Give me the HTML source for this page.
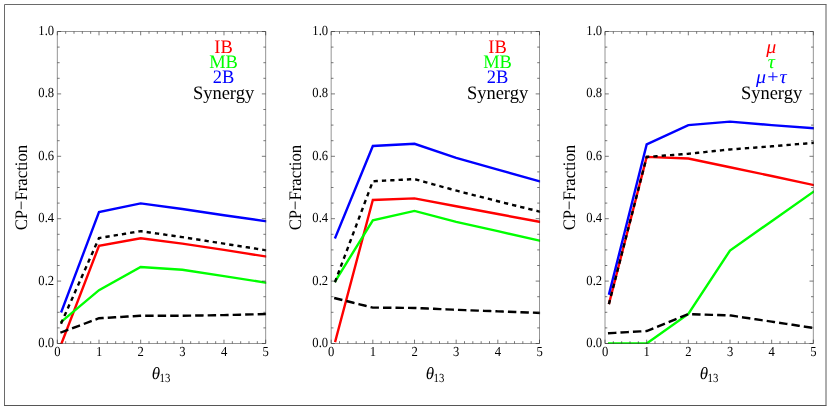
<!DOCTYPE html><html><head><meta charset="utf-8"><title>CP-Fraction</title>
<style>html,body{margin:0;padding:0;background:#fff;}body{width:830px;height:409px;overflow:hidden;}svg{display:block;will-change:transform;}text{font-family:"Liberation Serif",serif;text-rendering:geometricPrecision;}.s{font-family:"Liberation Serif",serif;font-style:italic;}</style></head><body>
<svg width="830" height="409" viewBox="0 0 830 409">
<path d="M4.5 405.5V4.5H826" fill="none" stroke="#6a6a6a" stroke-width="1" stroke-linecap="square"/><path d="M826 4.5V405.5" fill="none" stroke="#5c5c5c" stroke-width="1"/><path d="M4 405.5H826.5" fill="none" stroke="#565656" stroke-width="1"/>
<g id="panel1">
<clipPath id="c0"><rect x="56.73" y="30.90" width="209.53" height="313.20"/></clipPath>
<g clip-path="url(#c0)" fill="none" stroke-linejoin="miter" stroke-linecap="square">
<polyline points="61.50,343.50 99.00,245.84 140.66,238.20 182.33,243.66 223.99,249.90 265.66,256.45" stroke="#ff0000" stroke-width="2.4"/>
<polyline points="61.50,321.66 99.00,290.15 140.66,267.06 182.33,269.71 223.99,276.11 265.66,282.66" stroke="#00ff00" stroke-width="2.4"/>
<polyline points="61.50,311.36 99.00,212.15 140.66,203.41 182.33,209.03 223.99,215.27 265.66,221.20" stroke="#0000ff" stroke-width="2.4"/>
<polyline points="61.50,322.60 99.00,238.04 140.66,231.18 182.33,237.11 223.99,243.66 265.66,250.21" stroke="#000" stroke-width="2.4" stroke-dasharray="1.9 6.45"/>
<polyline points="61.50,332.27 99.00,318.23 140.66,315.73 182.33,315.73 223.99,315.11 265.66,314.02" stroke="#000" stroke-width="2.4" stroke-dasharray="6.05 6.45"/>
</g>
<path d="M57.33 31.5H265.66V343.5H57.33Z" fill="none" stroke="#3c3c3c" stroke-width="0.55"/>
<path d="M57.33 343.5v-3.8M57.33 31.5v3.8M65.66 343.5v-2.3M65.66 31.5v2.3M74.00 343.5v-2.3M74.00 31.5v2.3M82.33 343.5v-2.3M82.33 31.5v2.3M90.66 343.5v-2.3M90.66 31.5v2.3M99.00 343.5v-3.8M99.00 31.5v3.8M107.33 343.5v-2.3M107.33 31.5v2.3M115.66 343.5v-2.3M115.66 31.5v2.3M124.00 343.5v-2.3M124.00 31.5v2.3M132.33 343.5v-2.3M132.33 31.5v2.3M140.66 343.5v-3.8M140.66 31.5v3.8M149.00 343.5v-2.3M149.00 31.5v2.3M157.33 343.5v-2.3M157.33 31.5v2.3M165.66 343.5v-2.3M165.66 31.5v2.3M173.99 343.5v-2.3M173.99 31.5v2.3M182.33 343.5v-3.8M182.33 31.5v3.8M190.66 343.5v-2.3M190.66 31.5v2.3M198.99 343.5v-2.3M198.99 31.5v2.3M207.33 343.5v-2.3M207.33 31.5v2.3M215.66 343.5v-2.3M215.66 31.5v2.3M223.99 343.5v-3.8M223.99 31.5v3.8M232.33 343.5v-2.3M232.33 31.5v2.3M240.66 343.5v-2.3M240.66 31.5v2.3M248.99 343.5v-2.3M248.99 31.5v2.3M257.33 343.5v-2.3M257.33 31.5v2.3M265.66 343.5v-3.8M265.66 31.5v3.8M57.33 343.50h3.8M265.66 343.50h-3.8M57.33 327.90h2.3M265.66 327.90h-2.3M57.33 312.30h2.3M265.66 312.30h-2.3M57.33 296.70h2.3M265.66 296.70h-2.3M57.33 281.10h3.8M265.66 281.10h-3.8M57.33 265.50h2.3M265.66 265.50h-2.3M57.33 249.90h2.3M265.66 249.90h-2.3M57.33 234.30h2.3M265.66 234.30h-2.3M57.33 218.70h3.8M265.66 218.70h-3.8M57.33 203.10h2.3M265.66 203.10h-2.3M57.33 187.50h2.3M265.66 187.50h-2.3M57.33 171.90h2.3M265.66 171.90h-2.3M57.33 156.30h3.8M265.66 156.30h-3.8M57.33 140.70h2.3M265.66 140.70h-2.3M57.33 125.10h2.3M265.66 125.10h-2.3M57.33 109.50h2.3M265.66 109.50h-2.3M57.33 93.90h3.8M265.66 93.90h-3.8M57.33 78.30h2.3M265.66 78.30h-2.3M57.33 62.70h2.3M265.66 62.70h-2.3M57.33 47.10h2.3M265.66 47.10h-2.3M57.33 31.50h3.8M265.66 31.50h-3.8" fill="none" stroke="#303030" stroke-width="0.65"/>
<g font-size="13.8" fill="#000">
<text transform="translate(57.43,356.40) scale(0.915,1)" font-size="13.8" fill="#000" text-anchor="middle">0</text>
<text transform="translate(99.10,356.40) scale(0.915,1)" font-size="13.8" fill="#000" text-anchor="middle">1</text>
<text transform="translate(140.76,356.40) scale(0.915,1)" font-size="13.8" fill="#000" text-anchor="middle">2</text>
<text transform="translate(182.43,356.40) scale(0.915,1)" font-size="13.8" fill="#000" text-anchor="middle">3</text>
<text transform="translate(224.09,356.40) scale(0.915,1)" font-size="13.8" fill="#000" text-anchor="middle">4</text>
<text transform="translate(265.76,356.40) scale(0.915,1)" font-size="13.8" fill="#000" text-anchor="middle">5</text>
<text transform="translate(54.10,346.95) scale(0.915,1)" font-size="13.8" fill="#000" text-anchor="end">0.0</text>
<text transform="translate(54.10,284.55) scale(0.915,1)" font-size="13.8" fill="#000" text-anchor="end">0.2</text>
<text transform="translate(54.10,222.15) scale(0.915,1)" font-size="13.8" fill="#000" text-anchor="end">0.4</text>
<text transform="translate(54.10,159.75) scale(0.915,1)" font-size="13.8" fill="#000" text-anchor="end">0.6</text>
<text transform="translate(54.10,97.35) scale(0.915,1)" font-size="13.8" fill="#000" text-anchor="end">0.8</text>
<text transform="translate(54.10,34.95) scale(0.915,1)" font-size="13.8" fill="#000" text-anchor="end">1.0</text>
</g>
<text transform="translate(27.00,230.30) rotate(-90) scale(0.948,1)" font-size="17.6" fill="#000" text-anchor="start">CP−Fraction</text>
<text transform="translate(151.70,379.00)" font-size="17" fill="#000" text-anchor="start" font-style="italic">θ</text>
<text transform="translate(159.60,381.70) scale(0.87,1)" font-size="12.4" fill="#000" text-anchor="start">13</text>
<text transform="translate(223.50,52.60) scale(0.972,1)" font-size="19" fill="#ff0000" text-anchor="middle">IB</text>
<text transform="translate(223.50,68.00) scale(0.972,1)" font-size="19" fill="#00ff00" text-anchor="middle">MB</text>
<text transform="translate(223.50,83.10) scale(0.972,1)" font-size="19" fill="#0000ff" text-anchor="middle">2B</text>
<text transform="translate(223.50,98.50) scale(0.972,1)" font-size="19" fill="#000" text-anchor="middle">Synergy</text>
</g>
<g id="panel2">
<clipPath id="c1"><rect x="330.57" y="30.90" width="209.53" height="313.20"/></clipPath>
<g clip-path="url(#c1)" fill="none" stroke-linejoin="miter" stroke-linecap="square">
<polyline points="335.34,341.00 372.84,199.98 414.50,198.42 456.17,206.22 497.83,214.02 539.50,221.82" stroke="#ff0000" stroke-width="2.4"/>
<polyline points="335.34,281.10 372.84,220.26 414.50,210.90 456.17,221.82 497.83,231.18 539.50,240.54" stroke="#00ff00" stroke-width="2.4"/>
<polyline points="335.34,237.42 372.84,146.00 414.50,143.82 456.17,157.86 497.83,169.72 539.50,181.26" stroke="#0000ff" stroke-width="2.4"/>
<polyline points="335.34,281.10 372.84,181.26 414.50,179.08 456.17,190.62 497.83,201.23 539.50,211.52" stroke="#000" stroke-width="2.4" stroke-dasharray="1.9 6.45"/>
<polyline points="335.34,298.26 372.84,307.62 414.50,307.93 456.17,309.80 497.83,311.36 539.50,312.92" stroke="#000" stroke-width="2.4" stroke-dasharray="6.05 6.45"/>
</g>
<path d="M331.17 31.5H539.5V343.5H331.17Z" fill="none" stroke="#3c3c3c" stroke-width="0.55"/>
<path d="M331.17 343.5v-3.8M331.17 31.5v3.8M339.50 343.5v-2.3M339.50 31.5v2.3M347.84 343.5v-2.3M347.84 31.5v2.3M356.17 343.5v-2.3M356.17 31.5v2.3M364.50 343.5v-2.3M364.50 31.5v2.3M372.84 343.5v-3.8M372.84 31.5v3.8M381.17 343.5v-2.3M381.17 31.5v2.3M389.50 343.5v-2.3M389.50 31.5v2.3M397.84 343.5v-2.3M397.84 31.5v2.3M406.17 343.5v-2.3M406.17 31.5v2.3M414.50 343.5v-3.8M414.50 31.5v3.8M422.84 343.5v-2.3M422.84 31.5v2.3M431.17 343.5v-2.3M431.17 31.5v2.3M439.50 343.5v-2.3M439.50 31.5v2.3M447.83 343.5v-2.3M447.83 31.5v2.3M456.17 343.5v-3.8M456.17 31.5v3.8M464.50 343.5v-2.3M464.50 31.5v2.3M472.83 343.5v-2.3M472.83 31.5v2.3M481.17 343.5v-2.3M481.17 31.5v2.3M489.50 343.5v-2.3M489.50 31.5v2.3M497.83 343.5v-3.8M497.83 31.5v3.8M506.17 343.5v-2.3M506.17 31.5v2.3M514.50 343.5v-2.3M514.50 31.5v2.3M522.83 343.5v-2.3M522.83 31.5v2.3M531.17 343.5v-2.3M531.17 31.5v2.3M539.50 343.5v-3.8M539.50 31.5v3.8M331.17 343.50h3.8M539.50 343.50h-3.8M331.17 327.90h2.3M539.50 327.90h-2.3M331.17 312.30h2.3M539.50 312.30h-2.3M331.17 296.70h2.3M539.50 296.70h-2.3M331.17 281.10h3.8M539.50 281.10h-3.8M331.17 265.50h2.3M539.50 265.50h-2.3M331.17 249.90h2.3M539.50 249.90h-2.3M331.17 234.30h2.3M539.50 234.30h-2.3M331.17 218.70h3.8M539.50 218.70h-3.8M331.17 203.10h2.3M539.50 203.10h-2.3M331.17 187.50h2.3M539.50 187.50h-2.3M331.17 171.90h2.3M539.50 171.90h-2.3M331.17 156.30h3.8M539.50 156.30h-3.8M331.17 140.70h2.3M539.50 140.70h-2.3M331.17 125.10h2.3M539.50 125.10h-2.3M331.17 109.50h2.3M539.50 109.50h-2.3M331.17 93.90h3.8M539.50 93.90h-3.8M331.17 78.30h2.3M539.50 78.30h-2.3M331.17 62.70h2.3M539.50 62.70h-2.3M331.17 47.10h2.3M539.50 47.10h-2.3M331.17 31.50h3.8M539.50 31.50h-3.8" fill="none" stroke="#303030" stroke-width="0.65"/>
<g font-size="13.8" fill="#000">
<text transform="translate(331.27,356.40) scale(0.915,1)" font-size="13.8" fill="#000" text-anchor="middle">0</text>
<text transform="translate(372.94,356.40) scale(0.915,1)" font-size="13.8" fill="#000" text-anchor="middle">1</text>
<text transform="translate(414.60,356.40) scale(0.915,1)" font-size="13.8" fill="#000" text-anchor="middle">2</text>
<text transform="translate(456.27,356.40) scale(0.915,1)" font-size="13.8" fill="#000" text-anchor="middle">3</text>
<text transform="translate(497.93,356.40) scale(0.915,1)" font-size="13.8" fill="#000" text-anchor="middle">4</text>
<text transform="translate(539.60,356.40) scale(0.915,1)" font-size="13.8" fill="#000" text-anchor="middle">5</text>
<text transform="translate(328.10,346.95) scale(0.915,1)" font-size="13.8" fill="#000" text-anchor="end">0.0</text>
<text transform="translate(328.10,284.55) scale(0.915,1)" font-size="13.8" fill="#000" text-anchor="end">0.2</text>
<text transform="translate(328.10,222.15) scale(0.915,1)" font-size="13.8" fill="#000" text-anchor="end">0.4</text>
<text transform="translate(328.10,159.75) scale(0.915,1)" font-size="13.8" fill="#000" text-anchor="end">0.6</text>
<text transform="translate(328.10,97.35) scale(0.915,1)" font-size="13.8" fill="#000" text-anchor="end">0.8</text>
<text transform="translate(328.10,34.95) scale(0.915,1)" font-size="13.8" fill="#000" text-anchor="end">1.0</text>
</g>
<text transform="translate(301.00,230.30) rotate(-90) scale(0.948,1)" font-size="17.6" fill="#000" text-anchor="start">CP−Fraction</text>
<text transform="translate(425.70,379.00)" font-size="17" fill="#000" text-anchor="start" font-style="italic">θ</text>
<text transform="translate(433.60,381.70) scale(0.87,1)" font-size="12.4" fill="#000" text-anchor="start">13</text>
<text transform="translate(497.50,52.60) scale(0.972,1)" font-size="19" fill="#ff0000" text-anchor="middle">IB</text>
<text transform="translate(497.50,68.00) scale(0.972,1)" font-size="19" fill="#00ff00" text-anchor="middle">MB</text>
<text transform="translate(497.50,83.10) scale(0.972,1)" font-size="19" fill="#0000ff" text-anchor="middle">2B</text>
<text transform="translate(497.50,98.50) scale(0.972,1)" font-size="19" fill="#000" text-anchor="middle">Synergy</text>
</g>
<g id="panel3">
<clipPath id="c2"><rect x="604.40" y="30.90" width="209.53" height="313.20"/></clipPath>
<g clip-path="url(#c2)" fill="none" stroke-linejoin="miter" stroke-linecap="square">
<polyline points="609.17,302.94 646.67,156.92 688.33,158.48 730.00,167.22 771.66,175.96 813.33,185.00" stroke="#ff0000" stroke-width="2.4"/>
<polyline points="609.17,343.50 646.67,343.50 688.33,313.86 730.00,250.52 771.66,221.20 813.33,191.87" stroke="#00ff00" stroke-width="2.4"/>
<polyline points="609.17,293.58 646.67,144.44 688.33,125.10 730.00,121.67 771.66,125.10 813.33,128.22" stroke="#0000ff" stroke-width="2.4"/>
<polyline points="609.17,302.94 646.67,156.92 688.33,153.80 730.00,149.44 771.66,146.32 813.33,142.88" stroke="#000" stroke-width="2.4" stroke-dasharray="1.9 6.45"/>
<polyline points="609.17,333.20 646.67,331.02 688.33,314.17 730.00,315.42 771.66,321.66 813.33,327.90" stroke="#000" stroke-width="2.4" stroke-dasharray="6.05 6.45"/>
</g>
<path d="M605.0 31.5H813.33V343.5H605.0Z" fill="none" stroke="#3c3c3c" stroke-width="0.55"/>
<path d="M605.00 343.5v-3.8M605.00 31.5v3.8M613.33 343.5v-2.3M613.33 31.5v2.3M621.67 343.5v-2.3M621.67 31.5v2.3M630.00 343.5v-2.3M630.00 31.5v2.3M638.33 343.5v-2.3M638.33 31.5v2.3M646.67 343.5v-3.8M646.67 31.5v3.8M655.00 343.5v-2.3M655.00 31.5v2.3M663.33 343.5v-2.3M663.33 31.5v2.3M671.67 343.5v-2.3M671.67 31.5v2.3M680.00 343.5v-2.3M680.00 31.5v2.3M688.33 343.5v-3.8M688.33 31.5v3.8M696.67 343.5v-2.3M696.67 31.5v2.3M705.00 343.5v-2.3M705.00 31.5v2.3M713.33 343.5v-2.3M713.33 31.5v2.3M721.66 343.5v-2.3M721.66 31.5v2.3M730.00 343.5v-3.8M730.00 31.5v3.8M738.33 343.5v-2.3M738.33 31.5v2.3M746.66 343.5v-2.3M746.66 31.5v2.3M755.00 343.5v-2.3M755.00 31.5v2.3M763.33 343.5v-2.3M763.33 31.5v2.3M771.66 343.5v-3.8M771.66 31.5v3.8M780.00 343.5v-2.3M780.00 31.5v2.3M788.33 343.5v-2.3M788.33 31.5v2.3M796.66 343.5v-2.3M796.66 31.5v2.3M805.00 343.5v-2.3M805.00 31.5v2.3M813.33 343.5v-3.8M813.33 31.5v3.8M605.00 343.50h3.8M813.33 343.50h-3.8M605.00 327.90h2.3M813.33 327.90h-2.3M605.00 312.30h2.3M813.33 312.30h-2.3M605.00 296.70h2.3M813.33 296.70h-2.3M605.00 281.10h3.8M813.33 281.10h-3.8M605.00 265.50h2.3M813.33 265.50h-2.3M605.00 249.90h2.3M813.33 249.90h-2.3M605.00 234.30h2.3M813.33 234.30h-2.3M605.00 218.70h3.8M813.33 218.70h-3.8M605.00 203.10h2.3M813.33 203.10h-2.3M605.00 187.50h2.3M813.33 187.50h-2.3M605.00 171.90h2.3M813.33 171.90h-2.3M605.00 156.30h3.8M813.33 156.30h-3.8M605.00 140.70h2.3M813.33 140.70h-2.3M605.00 125.10h2.3M813.33 125.10h-2.3M605.00 109.50h2.3M813.33 109.50h-2.3M605.00 93.90h3.8M813.33 93.90h-3.8M605.00 78.30h2.3M813.33 78.30h-2.3M605.00 62.70h2.3M813.33 62.70h-2.3M605.00 47.10h2.3M813.33 47.10h-2.3M605.00 31.50h3.8M813.33 31.50h-3.8" fill="none" stroke="#303030" stroke-width="0.65"/>
<g font-size="13.8" fill="#000">
<text transform="translate(605.10,356.40) scale(0.915,1)" font-size="13.8" fill="#000" text-anchor="middle">0</text>
<text transform="translate(646.77,356.40) scale(0.915,1)" font-size="13.8" fill="#000" text-anchor="middle">1</text>
<text transform="translate(688.43,356.40) scale(0.915,1)" font-size="13.8" fill="#000" text-anchor="middle">2</text>
<text transform="translate(730.10,356.40) scale(0.915,1)" font-size="13.8" fill="#000" text-anchor="middle">3</text>
<text transform="translate(771.76,356.40) scale(0.915,1)" font-size="13.8" fill="#000" text-anchor="middle">4</text>
<text transform="translate(813.43,356.40) scale(0.915,1)" font-size="13.8" fill="#000" text-anchor="middle">5</text>
<text transform="translate(602.10,346.95) scale(0.915,1)" font-size="13.8" fill="#000" text-anchor="end">0.0</text>
<text transform="translate(602.10,284.55) scale(0.915,1)" font-size="13.8" fill="#000" text-anchor="end">0.2</text>
<text transform="translate(602.10,222.15) scale(0.915,1)" font-size="13.8" fill="#000" text-anchor="end">0.4</text>
<text transform="translate(602.10,159.75) scale(0.915,1)" font-size="13.8" fill="#000" text-anchor="end">0.6</text>
<text transform="translate(602.10,97.35) scale(0.915,1)" font-size="13.8" fill="#000" text-anchor="end">0.8</text>
<text transform="translate(602.10,34.95) scale(0.915,1)" font-size="13.8" fill="#000" text-anchor="end">1.0</text>
</g>
<text transform="translate(575.00,230.30) rotate(-90) scale(0.948,1)" font-size="17.6" fill="#000" text-anchor="start">CP−Fraction</text>
<text transform="translate(699.70,379.00)" font-size="17" fill="#000" text-anchor="start" font-style="italic">θ</text>
<text transform="translate(707.60,381.70) scale(0.87,1)" font-size="12.4" fill="#000" text-anchor="start">13</text>
<text transform="translate(771.30,52.60) scale(1.05,1)" font-size="19" fill="#ff0000" text-anchor="middle" class="s">μ</text>
<text transform="translate(771.30,68.00) scale(1.05,1)" font-size="19" fill="#00ff00" text-anchor="middle" class="s">τ</text>
<text transform="translate(771.30,83.10) scale(1.05,1)" font-size="19" fill="#0000ff" text-anchor="middle" class="s">μ+τ</text>
<text transform="translate(771.50,98.50) scale(0.972,1)" font-size="19" fill="#000" text-anchor="middle">Synergy</text>
</g>
</svg></body></html>
